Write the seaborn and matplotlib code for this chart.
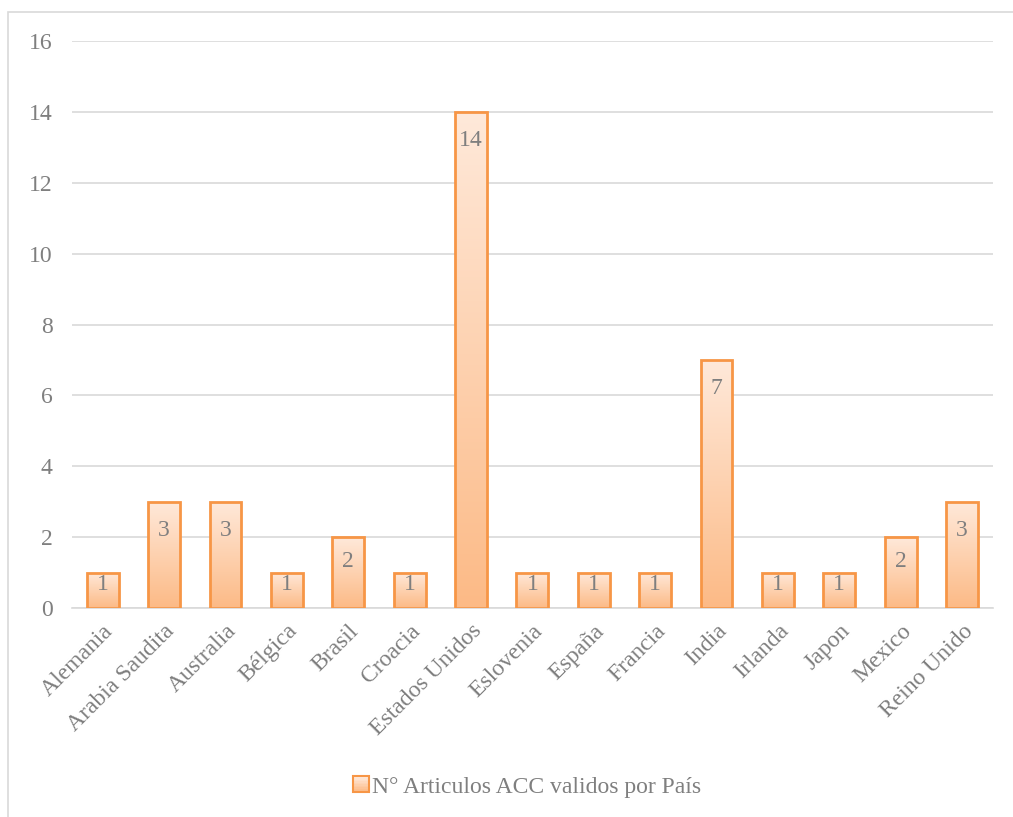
import numpy as np
import pandas as pd
import matplotlib
matplotlib.use("Agg")
import matplotlib.pyplot as plt
import seaborn as sns
from matplotlib.patches import Rectangle
from matplotlib.colors import LinearSegmentedColormap
from matplotlib.legend_handler import HandlerBase

paises = ["Alemania", "Arabia Saudita", "Australia", "Bélgica", "Brasil", "Croacia",
          "Estados Unidos", "Eslovenia", "España", "Francia", "India", "Irlanda",
          "Japon", "Mexico", "Reino Unido"]
articulos = [1, 3, 3, 1, 2, 1, 14, 1, 1, 1, 7, 1, 1, 2, 3]
serie = "N° Articulos ACC validos por País"
yticks = [0, 2, 4, 6, 8, 10, 12, 14, 16]

df = pd.DataFrame({"pais": paises, "n": articulos})

sns.set_theme(style="white")
plt.rcParams["font.family"] = ["Liberation Serif", "DejaVu Serif"]

TXT = "#7f7f7f"
GRID = "#d9d9d9"
EDGE = "#f79646"
FS = 17
grad = LinearSegmentedColormap.from_list("g", ["#fcba86", "#ffe9da"])

fig = plt.figure(figsize=(10.13, 8.17), dpi=100)
ax = fig.add_axes([0.0711, 0.2558, 0.9089, 0.694])

sns.barplot(data=df, x="pais", y="n", ax=ax, width=0.52, color=EDGE,
            edgecolor=EDGE, linewidth=2, zorder=3)

ax.set_ylim(0, 16)
ax.set_xlim(-0.5, len(paises) - 0.5)
ax.set_yticks(yticks)
ax.set_yticklabels([str(t) for t in yticks], color=TXT, fontsize=FS)
ax.yaxis.grid(True, color=GRID, linewidth=1.2, zorder=0)
ax.set_axisbelow(True)
for s in ["top", "right", "left"]:
    ax.spines[s].set_visible(False)
ax.spines["bottom"].set_color(GRID)
ax.spines["bottom"].set_linewidth(1.2)
ax.tick_params(axis="y", length=0, pad=14)
ax.tick_params(axis="x", length=0, pad=9)
ax.set_xlabel("")
ax.set_ylabel("")
ax.set_xticks(range(len(paises)))
ax.set_xticklabels(paises, rotation=45, ha="right", rotation_mode="anchor",
                   color=TXT, fontsize=FS)

gimg = np.linspace(0, 1, 256).reshape(-1, 1)
for p, v in zip(ax.patches, articulos):
    p.set_facecolor("none")
    x0, w = p.get_x(), p.get_width()
    im = ax.imshow(gimg, cmap=grad, aspect="auto", origin="lower",
                   extent=[x0, x0 + w, 0, v], zorder=2)
    im.set_clip_path(p)
    ax.text(x0 + w / 2, max(v - 0.8, 0.65 * v), str(v), ha="center", va="center",
            color=TXT, fontsize=FS, zorder=4)
ax.set_xlim(-0.5, len(paises) - 0.5)
ax.set_ylim(0, 16)


class GradHandler(HandlerBase):
    def create_artists(self, legend, orig, xd, yd, width, height, fontsize, trans):
        s = min(width, height) * 0.95
        x0 = xd + width - s
        y0 = yd + (height - s) / 2
        arts = []
        n = 10
        for i in range(n):
            c = grad(1 - i / (n - 1))
            r = Rectangle((x0, y0 + s * (n - 1 - i) / n), s, s / n,
                          facecolor=c, edgecolor="none", transform=trans)
            arts.append(r)
        arts.append(Rectangle((x0, y0), s, s, facecolor="none", edgecolor=EDGE,
                              linewidth=1.5, transform=trans))
        return arts


handle = Rectangle((0, 0), 1, 1)
fig.legend([handle], [serie], handler_map={Rectangle: GradHandler()},
           loc="center", bbox_to_anchor=(0.519, 0.037), frameon=False,
           fontsize=FS, labelcolor=TXT, handlelength=0.8, handletextpad=0.15)

fig.patches.append(Rectangle((8 / 1013, -0.1), 1.2, 1 - 12 / 817 + 0.1,
                             transform=fig.transFigure, facecolor="none",
                             edgecolor=GRID, linewidth=1.2, zorder=0))

fig.savefig("out.png", dpi=100)
